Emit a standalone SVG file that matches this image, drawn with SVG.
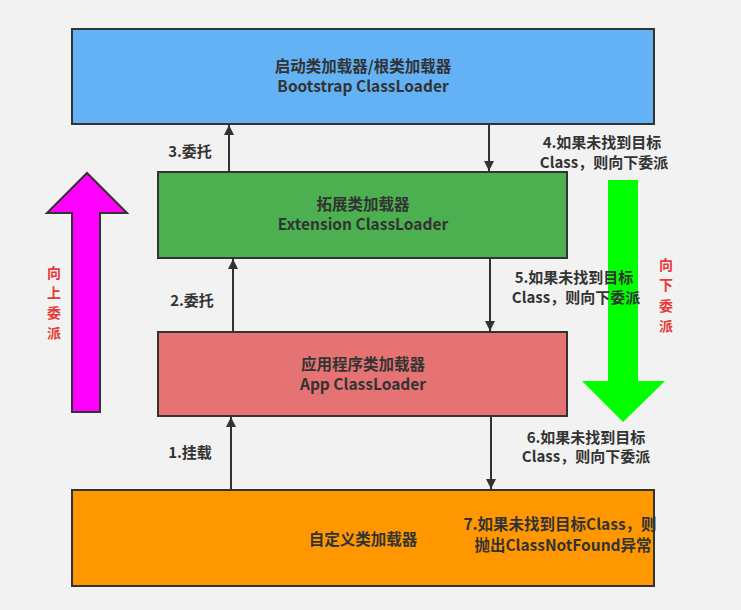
<svg xmlns="http://www.w3.org/2000/svg" width="741" height="610" viewBox="0 0 741 610">
<defs>
<marker id="ah" markerWidth="10" markerHeight="14" refX="10" refY="5" orient="auto" markerUnits="userSpaceOnUse" viewBox="0 0 10 10">
<path d="M0,0 L10,5 L0,10 Z" fill="#333"/>
</marker>
<style>
.box{stroke:#333;stroke-width:2}
.t{font-family:"Noto Sans CJK SC","Microsoft YaHei","Noto Sans",sans-serif;font-weight:bold;font-size:15px;fill:#333;text-anchor:middle}
.b{font-size:15.5px}
.r{font-family:"Noto Sans CJK SC","Noto Sans",sans-serif;font-weight:bold;font-size:14px;fill:#E53935;text-anchor:middle}
.c{stroke:#333;stroke-width:2;fill:none;marker-end:url(#ah)}
</style>
</defs>
<rect width="741" height="610" fill="#f2f2f2"/>

<g id="bootstrap">
<rect class="box" x="72" y="29" width="582" height="95" fill="#62B2F5"/>
<text class="t b" x="363" y="72">启动类加载器/根类加载器</text>
<text class="t b" x="363" y="92">Bootstrap ClassLoader</text>
</g>

<g id="extension">
<rect class="box" x="158" y="172" width="409" height="86" fill="#4CAF50"/>
<text class="t b" x="363" y="210">拓展类加载器</text>
<text class="t b" x="363" y="230">Extension ClassLoader</text>
</g>

<g id="app">
<rect class="box" x="158" y="332" width="409" height="84" fill="#E57373"/>
<text class="t b" x="363" y="370">应用程序类加载器</text>
<text class="t b" x="363" y="390">App ClassLoader</text>
</g>

<g id="custom">
<rect class="box" x="72" y="490" width="582" height="96" fill="#FF9800"/>
<text class="t b" x="363" y="545">自定义类加载器</text>
<text class="t b" x="560" y="530">7.如果未找到目标Class，则</text>
<text class="t b" x="563" y="551">抛出ClassNotFound异常</text>
</g>

<g id="up-arrow">
<path d="M72,412 L72,213 L47,213 L87,173 L127,213 L100,213 L100,412 Z" fill="#FF00FF" stroke="#333" stroke-width="2"/>
<text class="r" x="54" y="278">向</text>
<text class="r" x="54" y="298">上</text>
<text class="r" x="54" y="318">委</text>
<text class="r" x="54" y="338">派</text>
</g>

<g id="down-arrow">
<path d="M608,180 L638,180 L638,381 L665,381 L623,422 L582,381 L608,381 Z" fill="#00FF00"/>
<text class="r" x="666" y="270">向</text>
<text class="r" x="666" y="290">下</text>
<text class="r" x="666" y="311">委</text>
<text class="r" x="666" y="331">派</text>
</g>

<g id="connectors">
<line class="c" x1="229" y1="172" x2="229" y2="125"/>
<line class="c" x1="489" y1="124" x2="489" y2="171"/>
<line class="c" x1="233" y1="332" x2="233" y2="259"/>
<line class="c" x1="490" y1="258" x2="490" y2="331"/>
<line class="c" x1="231" y1="490" x2="231" y2="417"/>
<line class="c" x1="491" y1="416" x2="491" y2="489"/>
<text class="t" x="190" y="157">3.委托</text>
<text class="t" x="602" y="148">4.如果未找到目标</text>
<text class="t" x="604" y="168">Class，则向下委派</text>
<text class="t" x="192" y="306">2.委托</text>
<text class="t" x="574" y="283">5.如果未找到目标</text>
<text class="t" x="576" y="303">Class，则向下委派</text>
<text class="t" x="190" y="458">1.挂载</text>
<text class="t" x="586" y="443">6.如果未找到目标</text>
<text class="t" x="586" y="462">Class，则向下委派</text>
</g>
</svg>
